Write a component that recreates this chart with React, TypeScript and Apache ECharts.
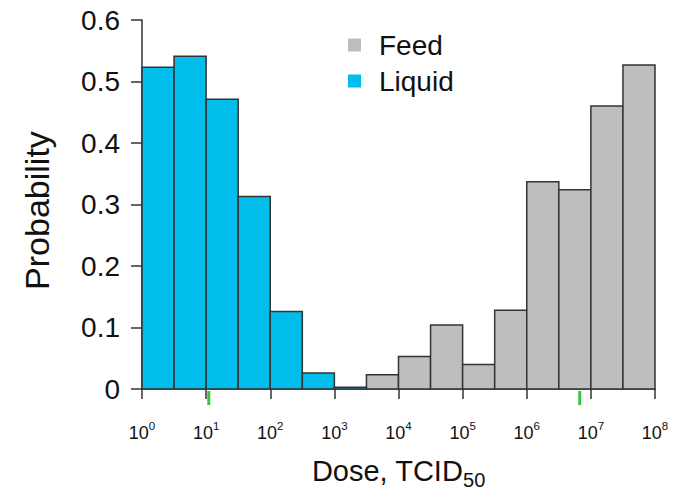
import React, { useEffect, useRef } from "react";
import * as echarts from "echarts";

// Histogram bins: lower edge of each bin as log10(dose), bin width in log10 units
const binWidthLog = 0.5;
const liquidLogLow = [0, 0.5, 1, 1.5, 2, 2.5, 3];
const liquidProb = [0.523, 0.541, 0.471, 0.313, 0.126, 0.026, 0.003];
const feedLogLow = [3.5, 4, 4.5, 5, 5.5, 6, 6.5, 7, 7.5];
const feedProb = [0.023, 0.053, 0.104, 0.04, 0.128, 0.337, 0.324, 0.46, 0.527];
// Green marker doses on the x axis
const markerDoses = [11, 6.7e6];
const yTicks = [0, 0.1, 0.2, 0.3, 0.4, 0.5, 0.6];
const seriesNames = ["Feed", "Liquid"];

const FONT = "Liberation Sans, Arial, Helvetica, sans-serif";

function toBarData(lows: number[], probs: number[]) {
  return lows.map((lo, i) => [Math.pow(10, lo), Math.pow(10, lo + binWidthLog), probs[i]]);
}

const barRender = (params: any, api: any) => {
  const p0 = api.coord([api.value(0), 0]);
  const p1 = api.coord([api.value(1), api.value(2)]);
  return {
    type: "rect",
    shape: { x: p0[0], y: p1[1], width: p1[0] - p0[0], height: p0[1] - p1[1] },
    style: { fill: api.visual("color"), stroke: "#333333", lineWidth: 1.5 },
  };
};

const markerRender = (params: any, api: any) => {
  const p = api.coord([api.value(0), 0]);
  return {
    type: "line",
    shape: { x1: p[0], y1: p[1] + 2, x2: p[0], y2: p[1] + 16 },
    style: { stroke: "#3cc23c", lineWidth: 3 },
  };
};

export default function App() {
  const ref = useRef<HTMLDivElement>(null);
  useEffect(() => {
    if (!ref.current) return;
    const chart = echarts.init(ref.current, undefined, { renderer: "svg" });
    chart.setOption({
      animation: false,
      backgroundColor: "#ffffff",
      textStyle: { fontFamily: FONT },
      grid: { left: 142, right: 18, top: 20, bottom: 102, containLabel: false, outerBoundsMode: "none" },
      legend: {
        data: seriesNames,
        orient: "vertical",
        left: 343,
        top: 25,
        icon: "rect",
        itemWidth: 13,
        itemHeight: 13,
        itemGap: 6,
        textStyle: { fontSize: 28, color: "#111", fontFamily: FONT, padding: [0, 0, 0, 13], lineHeight: 30 },
      },
      xAxis: {
        type: "log",
        logBase: 10,
        min: 1,
        max: 1e8,
        offset: 16,
        name: "{a|Dose, TCID}{s|50}",
        nameLocation: "middle",
        nameGap: 51,
        nameTextStyle: {
          rich: {
            a: { fontSize: 29, color: "#111", fontFamily: FONT, padding: [0, 0, 5, 0], verticalAlign: "bottom" },
            s: { fontSize: 20, color: "#111", fontFamily: FONT, verticalAlign: "bottom" },
          },
        },
        axisLine: { show: true, lineStyle: { color: "#333", width: 1.5 } },
        axisTick: { show: true, length: 10, lineStyle: { color: "#333", width: 1.5 } },
        minorTick: { show: false },
        splitLine: { show: false },
        axisLabel: {
          margin: 15,
          hideOverlap: false,
          formatter: (v: number) => `{b|10}{s|${Math.round(Math.log10(v))}}`,
          rich: {
            b: { fontSize: 18, color: "#111", fontFamily: FONT, verticalAlign: "bottom" },
            s: { fontSize: 11.5, color: "#111", fontFamily: FONT, verticalAlign: "bottom", padding: [0, 0, 10, 0] },
          },
        },
      },
      yAxis: {
        type: "value",
        min: 0,
        max: 0.6,
        interval: 0.1,
        name: "Probability",
        nameLocation: "middle",
        nameGap: 88,
        nameTextStyle: { fontSize: 34, color: "#111", fontFamily: FONT, padding: [0, 12, 0, 0] },
        axisLine: { show: true, lineStyle: { color: "#333", width: 1.5 } },
        axisTick: { show: true, length: 11, lineStyle: { color: "#333", width: 1.5 } },
        splitLine: { show: false },
        axisLabel: {
          fontSize: 28,
          color: "#111",
          margin: 22,
          fontFamily: FONT,
          formatter: (v: number) => {
            const t = yTicks.find((y) => Math.abs(y - v) < 1e-9);
            return t === 0 ? "0" : String(Math.round(v * 10) / 10);
          },
        },
      },
      series: [
        {
          name: "Feed",
          type: "custom",
          renderItem: barRender,
          itemStyle: { color: "#bebebe" },
          encode: { x: [0, 1], y: 2 },
          data: toBarData(feedLogLow, feedProb),
        },
        {
          name: "Liquid",
          type: "custom",
          renderItem: barRender,
          itemStyle: { color: "#00bdec" },
          encode: { x: [0, 1], y: 2 },
          data: toBarData(liquidLogLow, liquidProb),
        },
        {
          name: "markers",
          type: "custom",
          renderItem: markerRender,
          clip: false,
          encode: { x: 0 },
          data: markerDoses.map((d) => [d]),
          z: 5,
        },
      ],
    });
    return () => chart.dispose();
  }, []);
  return <div ref={ref} style={{ width: 673, height: 491, position: "fixed", left: 0, top: 0 }} />;
}
